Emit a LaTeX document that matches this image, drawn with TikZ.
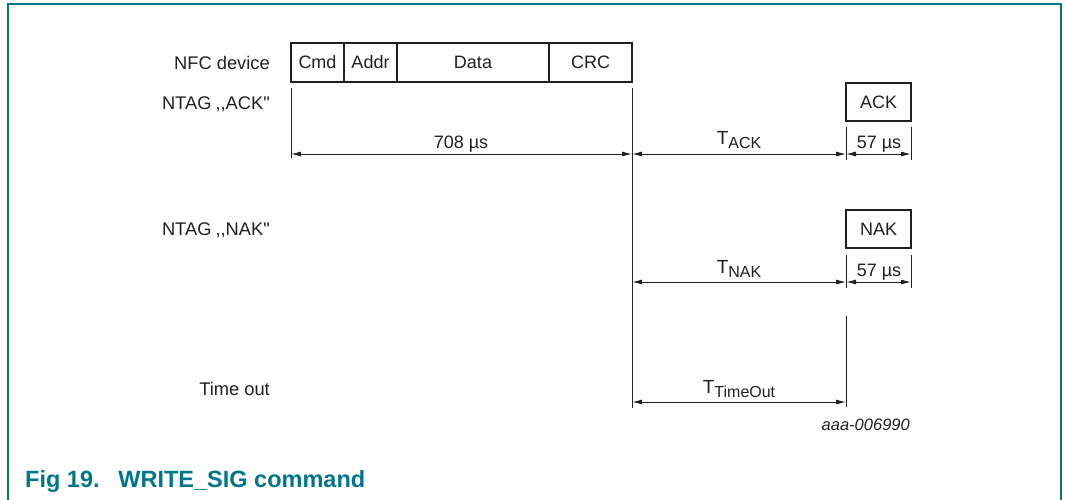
\documentclass[tikz,border=0pt]{standalone}
\usepackage{fontspec}
\setmainfont{Liberation Sans}
\newfontfamily\nolig{Liberation Sans}
\usetikzlibrary{arrows.meta}
\definecolor{nxpteal}{RGB}{0,118,138}
\definecolor{ink}{RGB}{35,31,32}
\newcommand\Tsub[1]{T\raisebox{-4pt}{\fontsize{16}{16}\selectfont #1}}
\newcommand\ntagq[1]{\nolig NTAG\hspace{4pt},,#1"}
\begin{document}
\begin{tikzpicture}[x=1pt,y=-1pt,
  field/.style={draw=ink, line width=2.4pt, inner sep=0pt, outer sep=0pt, anchor=north west,
    font=\fontsize{18}{18}\selectfont, text=ink},
  lbl/.style={anchor=base east, font=\fontsize{18.3}{18.3}\selectfont, text=ink, inner sep=0pt},
  dimtxt/.style={anchor=base, font=\fontsize{18}{18}\selectfont, text=ink, inner sep=0pt},
  tsub/.style={anchor=base, font=\fontsize{19}{19}\selectfont, text=ink, inner sep=0pt},
  tickline/.style={draw=ink, line width=1pt},
  dimarrow/.style={draw=ink, line width=1pt, {Latex[length=10pt,width=5pt]}-{Latex[length=10pt,width=5pt]}},
]
\useasboundingbox (0,0) rectangle (1065,500);
% frame
\draw[nxpteal, line width=2pt] (7.5,500) -- (7.5,4.5) -- (1060.5,4.5) -- (1060.5,500);

% row labels
\node[lbl] (lnfc) at (270,69.5) {NFC device};
\node[lbl] (lack) at (270,109.5) {\ntagq{ACK}};
\node[lbl] (lnak) at (270,235.5) {\ntagq{NAK}};
\node[lbl] (lto)  at (270,395.5) {Time out};

% packet fields
\node[field, minimum width=53, minimum height=39] (cmd) at (291,43) {Cmd};
\node[field, minimum width=53, minimum height=39] (addr) at (344,43) {Addr};
\node[field, minimum width=152, minimum height=39] (data) at (397,43) {Data};
\node[field, minimum width=83, minimum height=39] (crc) at (549,43) {CRC};

% response boxes
\node[field, minimum width=65, minimum height=38] (ack) at (846,83) {ACK};
\node[field, minimum width=65, minimum height=38] (nak) at (846,210) {NAK};

% vertical reference lines
\coordinate (s0) at (291,88);  \coordinate (s0b) at (291,158);
\coordinate (e0) at (632,88);  \coordinate (e0b) at (632,408);
\draw[tickline] (s0) -- (s0b);
\draw[tickline] (e0) -- (e0b);

\coordinate (ka1) at (846,127); \coordinate (ka1b) at (846,160);
\coordinate (ka2) at (911,127); \coordinate (ka2b) at (911,160);
\draw[tickline] (ka1) -- (ka1b);
\draw[tickline] (ka2) -- (ka2b);

\coordinate (kn1) at (846,255); \coordinate (kn1b) at (846,288);
\coordinate (kn2) at (911,255); \coordinate (kn2b) at (911,288);
\draw[tickline] (kn1) -- (kn1b);
\draw[tickline] (kn2) -- (kn2b);

\coordinate (kt) at (846,316); \coordinate (ktb) at (846,407);
\draw[tickline] (kt) -- (ktb);

% dimension arrows, ACK row
\coordinate (a0) at (291,154); \coordinate (a1) at (632,154);
\coordinate (a2) at (846,154); \coordinate (a3) at (911,154);
\draw[dimarrow] (a0) -- (a1);
\draw[dimarrow] (a1) -- (a2);
\draw[dimarrow] (a2) -- (a3);
\node[dimtxt] (t708) at (461,148) {708 µs};
\node[tsub] (tack) at (739,145) {\Tsub{ACK}};
\node[dimtxt] (t57a) at (879,148) {57 µs};

% NAK row
\coordinate (n1) at (632,282); \coordinate (n2) at (846,282); \coordinate (n3) at (911,282);
\draw[dimarrow] (n1) -- (n2);
\draw[dimarrow] (n2) -- (n3);
\node[tsub] (tnak) at (739,273) {\Tsub{NAK}};
\node[dimtxt] (t57n) at (879,276) {57 µs};

% Time out row
\coordinate (o1) at (632,402); \coordinate (o2) at (846,402);
\draw[dimarrow] (o1) -- (o2);
\node[tsub] (tto) at (739,393) {\Tsub{TimeOut}};

% figure id
\node[anchor=base east, inner sep=0pt, text=ink, font=\fontsize{16.5}{16.5}\selectfont\itshape] (fid) at (910,430) {aaa-006990};

% caption
\node[anchor=base west, inner sep=0pt, text=nxpteal, font=\fontsize{23.5}{23.5}\selectfont\bfseries] (cap) at (25,487) {Fig 19.\hspace{0.8em}WRITE\_SIG command};
\end{tikzpicture}
\end{document}
